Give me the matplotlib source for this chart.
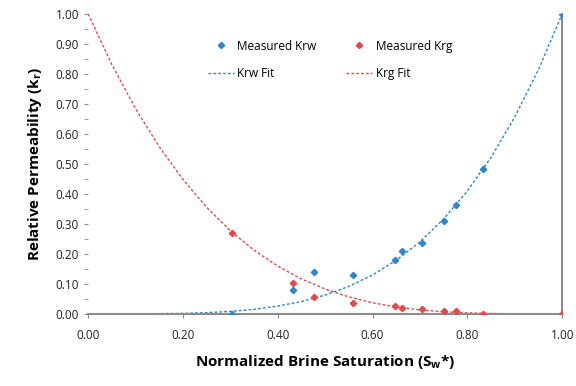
import matplotlib
matplotlib.use('Agg')
import matplotlib.pyplot as plt
from matplotlib.ticker import MultipleLocator, FormatStrFormatter

# measured data
sw_meas = [0.304, 0.432, 0.477, 0.559, 0.648, 0.662, 0.704, 0.751, 0.777, 0.832, 1.00]
krw_meas = [0.000, 0.078, 0.140, 0.130, 0.180, 0.210, 0.237, 0.310, 0.363, 0.483, 1.000]
krg_meas = [0.270, 0.102, 0.056, 0.036, 0.027, 0.021, 0.016, 0.008, 0.008, 0.000, 0.000]

# fit curves
sw_fit = [0.00, 0.05, 0.10, 0.15, 0.20, 0.25, 0.30, 0.35, 0.40, 0.45, 0.50,
          0.55, 0.60, 0.65, 0.70, 0.75, 0.80, 0.85, 0.90, 0.95, 1.00]
krw_fit = [0.0, 0.0, 0.0001, 0.0005, 0.0016, 0.0039, 0.0081, 0.015, 0.0256, 0.041, 0.0625,
           0.0915, 0.1296, 0.1785, 0.2401, 0.3164, 0.4096, 0.522, 0.6561, 0.8145, 1.0]
krg_fit = [1.0, 0.831, 0.684, 0.557, 0.448, 0.355, 0.277, 0.212, 0.159, 0.116, 0.0825,
           0.0565, 0.0369, 0.0228, 0.0131, 0.0068, 0.003, 0.0011, 0.0003, 0.0, 0.0]

blue = '#2f85cc'
red = '#e5484b'

plt.rcParams['font.family'] = ['Open Sans', 'DejaVu Sans']

fig = plt.figure(figsize=(5.76, 3.86), dpi=100)
ax = fig.add_axes([0.153, 0.187, 0.823, 0.777])

ax.plot(sw_meas, krw_meas, 'D', color=blue, markersize=3.2, label='Measured Krw', zorder=3)
ax.plot(sw_fit, krw_fit, '--', color=blue, linewidth=1.0, dashes=(2, 1.5), label='Krw Fit')
ax.plot(sw_meas, krg_meas, 'D', color=red, markersize=3.2, label='Measured Krg', zorder=3)
ax.plot(sw_fit, krg_fit, '--', color=red, linewidth=1.0, dashes=(2, 1.5), label='Krg Fit')

ax.set_xlim(0, 1)
ax.set_ylim(0, 1)
ax.xaxis.set_major_locator(MultipleLocator(0.2))
ax.yaxis.set_major_locator(MultipleLocator(0.1))
ax.yaxis.set_minor_locator(MultipleLocator(0.05))
ax.xaxis.set_major_formatter(FormatStrFormatter('%.2f'))
ax.yaxis.set_major_formatter(FormatStrFormatter('%.2f'))

for s in ['top', 'left']:
    ax.spines[s].set_visible(False)
for s in ['bottom', 'right']:
    ax.spines[s].set_color('#8c8c8c')
    ax.spines[s].set_linewidth(1.5)

ax.tick_params(axis='both', labelsize=8.5, colors='#222222')
ax.tick_params(axis='y', which='both', color='#8c8c8c', length=3)
ax.tick_params(axis='x', color='#8c8c8c', length=3, pad=8)

ax.set_xlabel(r'Normalized Brine Saturation (S$_\mathregular{w}$*)', fontsize=11,
              fontweight='bold', labelpad=8)
ax.set_ylabel(r'Relative Permeability (k$_\mathregular{r}$)', fontsize=11,
              fontweight='bold', labelpad=8)

ax.legend(loc='upper center', bbox_to_anchor=(0.51, 0.95), ncol=2, frameon=False,
          fontsize=8.5, handlelength=2.2, handletextpad=0.3, columnspacing=2.5,
          labelspacing=1.2)

fig.savefig('out.png', dpi=100)
